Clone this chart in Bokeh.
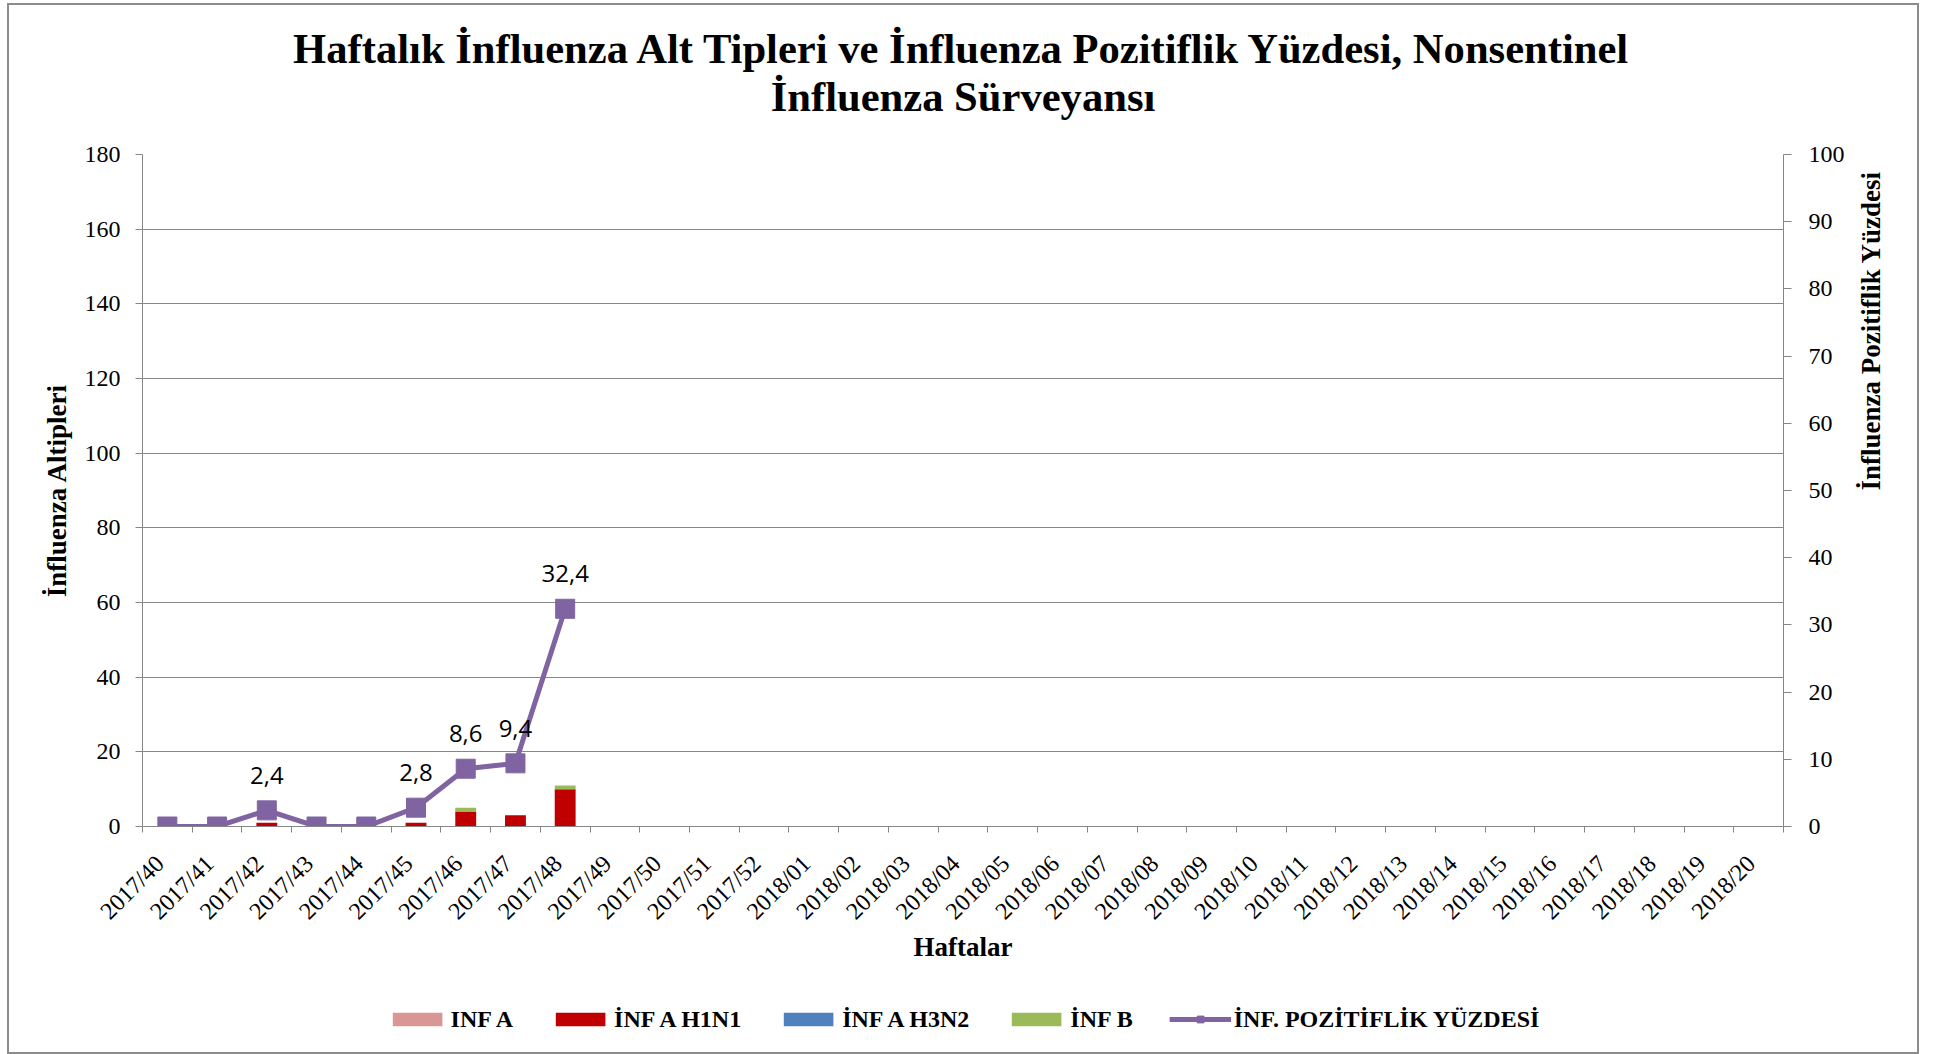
import numpy as np
from bokeh.plotting import figure
from bokeh.layouts import column
from bokeh.models import (Range1d, LinearAxis, FixedTicker, Legend, LegendItem,
                          ColumnDataSource, LabelSet, Label)
from bokeh.core.properties import value
from bokeh.embed import file_html
from bokeh.resources import INLINE

# ---------------- data ----------------
weeks = ["2017/40", "2017/41", "2017/42", "2017/43", "2017/44", "2017/45", "2017/46",
         "2017/47", "2017/48", "2017/49", "2017/50", "2017/51", "2017/52",
         "2018/01", "2018/02", "2018/03", "2018/04", "2018/05", "2018/06", "2018/07",
         "2018/08", "2018/09", "2018/10", "2018/11", "2018/12", "2018/13", "2018/14",
         "2018/15", "2018/16", "2018/17", "2018/18", "2018/19", "2018/20"]
data_weeks = ["2017/40", "2017/41", "2017/42", "2017/43", "2017/44", "2017/45",
              "2017/46", "2017/47", "2017/48"]
inf_a = [0, 0, 0, 0, 0, 0, 0, 0, 0]
inf_a_h1n1 = [0, 0, 1, 0, 0, 1, 4, 3, 10]
inf_a_h3n2 = [0, 0, 0, 0, 0, 0, 0, 0, 0]
inf_b = [0, 0, 0, 0, 0, 0, 1, 0, 1]
positivity = [0, 0, 2.4, 0, 0, 2.8, 8.6, 9.4, 32.4]
left_ticks = [0, 20, 40, 60, 80, 100, 120, 140, 160, 180]
right_ticks = [0, 10, 20, 30, 40, 50, 60, 70, 80, 90, 100]
title_lines = ["Haftalık İnfluenza Alt Tipleri ve İnfluenza Pozitiflik Yüzdesi, Nonsentinel",
               "İnfluenza Sürveyansı"]
series_names = ["INF A", "İNF A H1N1", "İNF A H3N2", "İNF B", "İNF. POZİTİFLİK YÜZDESİ"]

# ---------------- styling ----------------
SERIF = "Liberation Serif"
GRAY = "#868686"
C_A, C_H1, C_H3, C_B, C_LINE = "#D99694", "#C00000", "#4F81BD", "#9BBB59", "#8064A2"
W = 1908

xpos = {w: i + 0.5 for i, w in enumerate(weeks)}
label_shift = 0.15
src = ColumnDataSource(dict(
    x=[xpos[w] for w in data_weeks],
    inf_a=inf_a, h1n1=inf_a_h1n1, h3n2=inf_a_h3n2, infb=inf_b,
    pct=positivity,
))
lab_idx = [i for i, v in enumerate(positivity) if v > 0]
lab_src = ColumnDataSource(dict(
    x=[xpos[data_weeks[i]] for i in lab_idx],
    y=[positivity[i] for i in lab_idx],
    t=[f"{positivity[i]:.1f}".replace(".", ",") for i in lab_idx],
))

# ---------------- title strip ----------------
pt = figure(width=W, height=129, output_backend="svg", toolbar_location=None,
            x_range=Range1d(0, 1), y_range=Range1d(0, 1), x_axis_type=None,
            y_axis_type=None, min_border=0, outline_line_color=None)
pt.grid.visible = False
for txt, off in zip(title_lines, [22, -26]):
    pt.add_layout(Label(x=0.5, y=0.5, text=txt, y_offset=off,
                        text_align="center", text_baseline="middle", text_font=SERIF,
                        text_font_size="42.6px", text_font_style="bold",
                        text_color="black"))

# ---------------- main chart ----------------
p = figure(width=W, height=851, output_backend="svg", toolbar_location=None,
           x_range=Range1d(0, len(weeks)), y_range=Range1d(0, 180),
           min_border_left=133, min_border_right=134, min_border_top=20,
           min_border_bottom=159, outline_line_color=None)
p.extra_y_ranges = {"pct": Range1d(0, 100)}

bars = p.vbar_stack(["inf_a", "h1n1", "h3n2", "infb"], x="x", width=0.42,
                    color=[C_A, C_H1, C_H3, C_B], line_color=None, source=src)
ln = p.line("x", "pct", source=src, y_range_name="pct", color=C_LINE, line_width=5)
mk = p.scatter("x", "pct", source=src, y_range_name="pct", marker="square", size=19,
               color=C_LINE)
labels = LabelSet(x="x", y="y", text="t", source=lab_src, y_range_name="pct",
                  text_align="center", text_baseline="middle", y_offset=35,
                  text_font=value("Open Sans"), text_font_size="24px", text_color="black")
p.add_layout(labels)

# x axis
xa = p.xaxis[0]
xa.ticker = FixedTicker(ticks=[xpos[w] - label_shift for w in weeks],
                        minor_ticks=list(range(len(weeks) + 1)))
xa.major_label_overrides = {xpos[w] - label_shift: w for w in weeks}
xa.major_label_orientation = np.pi / 4
xa.major_tick_line_color = None
xa.major_tick_out = 0
xa.major_tick_in = 0
xa.minor_tick_line_color = GRAY
xa.minor_tick_in = 0
xa.minor_tick_out = 6
xa.axis_line_color = GRAY
xa.major_label_text_font = SERIF
xa.major_label_text_font_size = "24px"
xa.major_label_text_font_style = "normal"
xa.major_label_text_color = "black"
xa.major_label_standoff = 27
xa.axis_label = "Haftalar"
xa.axis_label_text_font = SERIF
xa.axis_label_text_font_size = "27px"
xa.axis_label_text_font_style = "bold"
xa.axis_label_text_color = "black"
xa.axis_label_standoff = -5

# left axis
ya = p.yaxis[0]
ya.ticker = FixedTicker(ticks=left_ticks)
ya.axis_line_color = GRAY
ya.major_tick_line_color = GRAY
ya.major_tick_in = 0
ya.major_tick_out = 7
ya.minor_tick_line_color = None
ya.major_label_text_font = SERIF
ya.major_label_text_font_size = "24px"
ya.major_label_text_font_style = "normal"
ya.major_label_text_color = "black"
ya.major_label_standoff = 15
ya.axis_label = "İnfluenza Altipleri"
ya.axis_label_text_font = SERIF
ya.axis_label_text_font_size = "27px"
ya.axis_label_text_font_style = "bold"
ya.axis_label_text_color = "black"
ya.axis_label_standoff = 10

# right axis
ra = LinearAxis(y_range_name="pct", ticker=FixedTicker(ticks=right_ticks))
ra.axis_line_color = GRAY
ra.major_tick_line_color = GRAY
ra.major_tick_in = 0
ra.major_tick_out = 8
ra.minor_tick_line_color = None
ra.major_label_text_font = SERIF
ra.major_label_text_font_size = "24px"
ra.major_label_text_font_style = "normal"
ra.major_label_text_color = "black"
ra.major_label_standoff = 17
ra.axis_label = "İnfluenza Pozitiflik Yüzdesi"
ra.axis_label_text_font = SERIF
ra.axis_label_text_font_size = "27px"
ra.axis_label_text_font_style = "bold"
ra.axis_label_text_color = "black"
ra.axis_label_standoff = 23
ra.axis_label_orientation = np.pi / 2
p.add_layout(ra, "right")

p.xgrid.grid_line_color = None
p.ygrid.grid_line_color = GRAY
p.ygrid.ticker = FixedTicker(ticks=left_ticks)

# ---------------- legend strip ----------------
pl = figure(width=W, height=67, output_backend="svg", toolbar_location=None,
            x_range=Range1d(0, 1), y_range=Range1d(0, 1), x_axis_type=None,
            y_axis_type=None, min_border=0, outline_line_color=None)
pl.grid.visible = False
placeholder = ColumnDataSource(dict(x=[np.nan], y=[np.nan]))
lg_r = [pl.vbar(x="x", top="y", width=0.1, color=c, line_color=None, source=placeholder)
        for c in [C_A, C_H1, C_H3, C_B]]
lg_ln = pl.line("x", "y", source=placeholder, color=C_LINE, line_width=5)
lg_mk = pl.scatter("x", "y", source=placeholder, marker="square", size=14, color=C_LINE)
legend = Legend(items=[LegendItem(label=n, renderers=[r])
                       for n, r in zip(series_names[:4], lg_r)] +
                      [LegendItem(label=series_names[4], renderers=[lg_ln, lg_mk])],
                orientation="horizontal", location="center", border_line_color=None,
                background_fill_alpha=0, label_text_font=SERIF,
                label_text_font_size="24px", label_text_font_style="bold",
                label_text_color="black", glyph_width=62, glyph_height=17,
                label_standoff=3, spacing=36, margin=0, padding=0)
pl.add_layout(legend, "center")

layout = column(pt, p, pl, spacing=0)
layout.styles = {"border": "2px solid #8c8c8c", "margin-left": "7px", "margin-top": "3px"}

open("out.html", "w").write(file_html(layout, INLINE))
